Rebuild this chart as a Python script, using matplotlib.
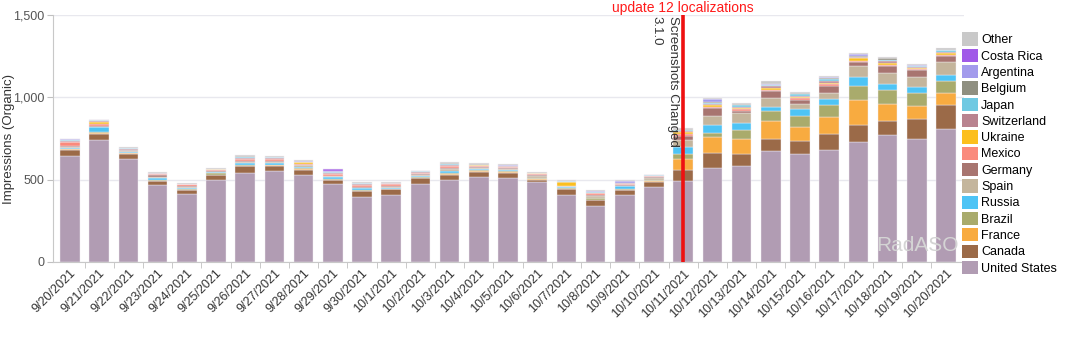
import numpy as np
import matplotlib
matplotlib.use("Agg")
import matplotlib.pyplot as plt
from matplotlib.patches import Patch
from matplotlib.ticker import FuncFormatter

plt.rcParams['font.family'] = ['Liberation Sans', 'DejaVu Sans']

# ---------------------------------------------------------------------------
# dados
# ---------------------------------------------------------------------------
dates = ['9/20/2021', '9/21/2021', '9/22/2021', '9/23/2021', '9/24/2021', '9/25/2021',
         '9/26/2021', '9/27/2021', '9/28/2021', '9/29/2021', '9/30/2021', '10/1/2021',
         '10/2/2021', '10/3/2021', '10/4/2021', '10/5/2021', '10/6/2021', '10/7/2021',
         '10/8/2021', '10/9/2021', '10/10/2021', '10/11/2021', '10/12/2021', '10/13/2021',
         '10/14/2021', '10/15/2021', '10/16/2021', '10/17/2021', '10/18/2021', '10/19/2021',
         '10/20/2021']

united_states = [641, 741, 623, 468, 411, 498, 538, 552, 526, 474, 395, 409, 474, 498, 514, 510,
                 484, 409, 341, 407, 454, 494, 573, 581, 672, 658, 680, 730, 770, 748, 809]
canada = [39, 39, 33, 22, 24, 28, 42, 31, 30, 22, 35, 34, 34, 28, 30, 30,
          12, 32, 34, 28, 30, 62, 91, 77, 76, 74, 96, 103, 89, 121, 143]
france = [5, 6, 3, 4, 2, 4, 6, 4, 10, 2, 4, 3, 5, 10, 6, 6,
          8, 3, 3, 3, 8, 67, 94, 88, 107, 87, 107, 151, 103, 77, 77]
brazil = [3, 3, 5, 6, 4, 8, 4, 4, 4, 3, 3, 0, 4, 6, 6, 4,
          4, 4, 8, 4, 4, 32, 26, 53, 65, 66, 69, 83, 83, 83, 68]
russia = [6, 28, 4, 10, 8, 7, 10, 12, 4, 14, 10, 4, 8, 12, 8, 6,
          0, 5, 4, 18, 4, 41, 51, 44, 24, 45, 36, 54, 36, 32, 40]
spain = [4, 4, 6, 8, 8, 4, 6, 4, 14, 6, 5, 6, 4, 10, 6, 6,
         12, 6, 10, 4, 10, 46, 54, 60, 52, 30, 41, 69, 64, 60, 77]
germany = [4, 3, 5, 8, 6, 4, 6, 6, 4, 4, 4, 4, 6, 8, 4, 6,
           6, 4, 6, 4, 6, 26, 47, 17, 40, 26, 40, 24, 45, 44, 36]
mexico = [28, 15, 4, 10, 8, 6, 12, 12, 6, 10, 10, 14, 8, 8, 8, 8,
          6, 0, 10, 8, 4, 8, 8, 10, 10, 8, 14, 6, 6, 8, 6]
ukraine = [0, 14, 0, 0, 0, 3, 0, 0, 8, 0, 0, 0, 0, 0, 6, 0,
           8, 22, 0, 0, 4, 16, 10, 8, 12, 6, 6, 18, 14, 8, 12]
switzerland = [4, 3, 3, 3, 3, 0, 6, 4, 0, 6, 8, 6, 4, 8, 0, 4,
               0, 0, 4, 6, 0, 6, 6, 6, 8, 10, 12, 6, 12, 6, 8]
japan = [4, 4, 6, 2, 2, 4, 8, 6, 0, 6, 6, 0, 5, 8, 4, 4,
         0, 8, 6, 0, 3, 4, 4, 8, 8, 8, 10, 4, 6, 4, 12]
belgium = [2, 2, 0, 2, 0, 0, 4, 0, 0, 0, 0, 0, 0, 4, 5, 0,
           0, 0, 0, 0, 0, 4, 6, 6, 0, 8, 6, 4, 12, 0, 0]
argentina = [6, 0, 0, 0, 0, 0, 0, 0, 6, 5, 0, 0, 0, 0, 0, 8,
             0, 0, 8, 10, 0, 0, 18, 0, 6, 0, 6, 14, 0, 6, 0]
costa_rica = [0, 0, 0, 0, 0, 0, 0, 0, 0, 10, 0, 0, 0, 0, 0, 0,
              0, 0, 0, 0, 0, 0, 0, 0, 0, 0, 0, 0, 0, 0, 0]
other = [4, 3, 4, 4, 4, 3, 7, 8, 5, 5, 6, 6, 3, 5, 4, 3,
         9, 7, 6, 4, 3, 6, 8, 10, 17, 4, 7, 6, 6, 5, 9]

# ordem de empilhamento (de baixo para cima)
series = [
    ('United States', united_states, '#b19cb3'),
    ('Canada', canada, '#9b6a48'),
    ('France', france, '#f8ab40'),
    ('Brazil', brazil, '#a9ab6c'),
    ('Russia', russia, '#4ec4f5'),
    ('Spain', spain, '#c4b59c'),
    ('Germany', germany, '#a87570'),
    ('Mexico', mexico, '#fa8a7c'),
    ('Ukraine', ukraine, '#fcbf1e'),
    ('Switzerland', switzerland, '#b9838f'),
    ('Japan', japan, '#6fc9e2'),
    ('Belgium', belgium, '#8f8f80'),
    ('Argentina', argentina, '#a39bec'),
    ('Costa Rica', costa_rica, '#a15ae8'),
    ('Other', other, '#c9c9c9'),
]

event_date = '10/11/2021'

# ---------------------------------------------------------------------------
# gráfico
# ---------------------------------------------------------------------------
fig = plt.figure(figsize=(10.7, 3.42), dpi=100)
ax = fig.add_axes([0.0495, 0.234, 0.851, 0.722])

x = np.arange(len(dates))
bottom = np.zeros(len(dates))
for name, vals, color in series:
    vals = np.array(vals, dtype=float)
    ax.bar(x, vals, 0.67, bottom=bottom, color=color, edgecolor='#f2eef3',
           linewidth=0.3, zorder=2)
    bottom += vals

ax.set_xlim(-0.58, len(dates) - 0.4)
ax.set_ylim(0, 1500)
ax.set_yticks([0, 500, 1000, 1500])
ax.yaxis.set_major_formatter(FuncFormatter(lambda v, p: f'{int(v):,}'))
ax.grid(axis='y', color='#e8e8ee', linewidth=1, zorder=0)
ax.set_axisbelow(True)

# ticks do eixo x entre as barras, rótulos no centro
ax.set_xticks(x)
ax.set_xticklabels(dates, rotation=45, ha='right', rotation_mode='anchor',
                   fontsize=9, color='#333333')
ax.set_xticks(x[:-1] + 0.5, minor=True)
ax.tick_params(axis='x', which='major', length=0, pad=4)
ax.tick_params(axis='x', which='minor', length=4, color='#c0c0c0')
ax.tick_params(axis='y', length=4, pad=2, color='#c0c0c0', labelsize=9, labelcolor='#555555')

for s in ['top', 'right']:
    ax.spines[s].set_visible(False)
for s in ['left', 'bottom']:
    ax.spines[s].set_color('#c8c8c8')

ax.set_ylabel('Impressions (Organic)', fontsize=9.5, color='#333333')
ax.yaxis.set_label_coords(-0.042, 0.5)

# linha do evento
ie = dates.index(event_date)
ax.axvline(ie, color='#ee1111', linewidth=2.6, zorder=5)
ax.annotate('update 12 localizations', xy=(ie, 1500), xytext=(0, 10),
            textcoords='offset points', ha='center', va='top',
            color='#ff1a1a', fontsize=10, annotation_clip=False)
ax.annotate('Screenshots Changed', xy=(ie, 1500), xytext=(-3, -1),
            textcoords='offset points', ha='right', va='top', rotation=270,
            color='#333333', fontsize=9.5)
ax.annotate('3.1.0', xy=(ie, 1500), xytext=(-15, -1),
            textcoords='offset points', ha='right', va='top', rotation=270,
            color='#333333', fontsize=9.5)

# marca d'água
ax.text(0.995, 0.03, 'RadASO', transform=ax.transAxes, ha='right', va='bottom',
        fontsize=15, color='#d4d4d4', zorder=6)

# legenda
handles = [Patch(facecolor=c, edgecolor='none', label=n) for n, v, c in series][::-1]
fig.legend(handles=handles, loc='upper left', bbox_to_anchor=(0.899, 0.905),
           frameon=False, fontsize=9, handlelength=1.25, handleheight=1.25,
           handletextpad=0.3, labelspacing=0.2, borderpad=0, borderaxespad=0)

plt.savefig('out.png', dpi=100)
plt.close()
